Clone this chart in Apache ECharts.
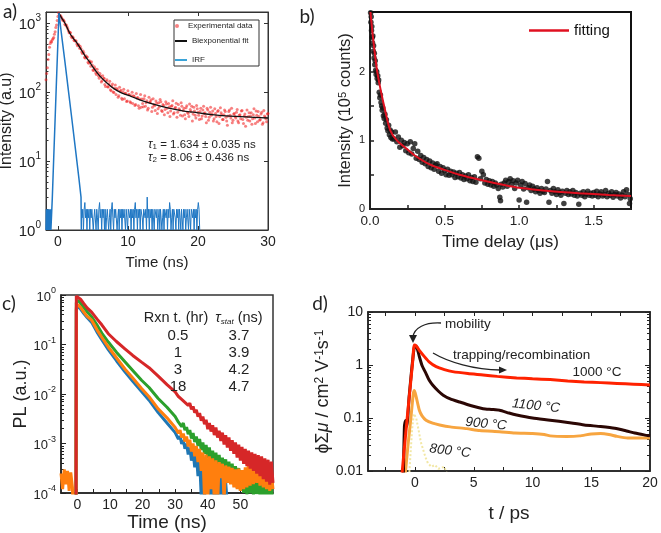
<!DOCTYPE html>
<html><head><meta charset="utf-8">
<script src="https://cdn.jsdelivr.net/npm/echarts@6/dist/echarts.min.js"></script>
<style>html,body{margin:0;padding:0;background:#fff}#c{width:661px;height:533px}</style>
</head><body><div id="c"></div>
<script>
// ---------------- Panel a ----------------
const aExpPre = [[-1.7,150],[-1.6,185],[-1.5,225],[-1.4,295],[-1.3,350],[-1.2,445],[-1.1,505],[-1.0,540],[-0.9,530],[-0.8,570],[-0.7,590],[-0.6,615],[-0.5,690],[-0.4,750],[-0.3,860],[-0.2,940],[-0.1,1090],[0.0,1240],[0.1,1400]];
const aExpStart = 0.2, aExpStep = 0.2;
const aExpVals = [1290,1270,1150,1105,960,935,835,725,725,610,612,552,550,470,478,455,380,392,318,335,322,262,271,275,208,232,188,214,170,186,140,172,159,120,150,118,143,104,131,98,126,112,84,117,106,78,110,96,73,104,92,70,99,88,64,95,83,58,92,79,61,88,70,55,84,72,52,80,63,74,49,70,78,54,66,47,72,58,68,44,62,75,50,60,43,66,55,70,45,58,41,63,49,67,52,38,60,46,64,51,40,58,45,62,50,36,55,43,60,48,38,57,44,52,35,59,47,40,55,43,33,52,46,58,39,49,42,56,36,47,53,40,45,32,55,44,38,50,41,57,35,46,52,39,48,34,54,43,37,49];
const aExp2Start = 0.3, aExp2Step = 0.2;
const aExpVals2 = [1255,1215,1100,1060,935,885,770,735,645,630,565,555,498,492,430,425,362,370,310,318,270,285,236,246,205,218,180,194,158,170,146,157,128,143,119,131,108,122,100,113,92,108,88,103,81,99,80,95,74,91,72,88,68,86,66,82,63,79,60,68,80,62,75,58,71,77,60,66,54,69,57,61,72,52,64,56,67,50,61,53,64,48,58,69,51,57,46,62,54,47,59,51,44,56,62,48,53,42,57,46,52,41,55,49,44,58,39,51,46,53,41,49,37,54,44,50,40,47,52,38,45,55,42,36,48,44,51,38,46,41,54,35,48,43,39,50,45,34,47,42,53,37,44,40,51,36,45,41,48];
const aFit = [[0.15,1400],[0.5,1200],[1,1000],[1.7,710],[2.2,600],[2.8,500],[3.4,400],[4,320],[4.5,275],[5,230],[6,170],[7,135],[8,112],[9,98],[10,90],[11,82],[12,75],[14,65],[16,58],[18,53],[20,50],[22,47],[24,45],[26,44],[28,43],[30,42]];
const aIrfPeak = [[-1.7,1],[-1.65,2],[-1.6,1],[-1.5,1],[-1.45,2],[-1.4,1],[-1.3,1],[-1.25,2],[-1.2,1],[-1.1,1],[-1.05,2],[-1.0,1],[-0.96,1],[-0.8,2.9],[-0.6,11],[-0.4,40],[-0.2,150],[0.0,530],[0.15,1400],[0.5,700],[1.0,275],[1.5,105],[2.0,40],[2.5,15],[3.0,5.6],[3.3,3],[3.35,1]];
const aIrfNoiseStart = 3.4, aIrfNoiseStep = 0.1;
const aIrfNoise = [2,1.5,2,1,2,2.5,1.5,2,1,2, 1.5,2,1,2,1.5,2,2,1,1.5,2, 2,1,2,1.5,1,2,2.5,1.5,2,1, 2,1.5,2,1,2,1,1.5,2,2,1, 1.5,2,1,2,2.5,1.5,1,2,1.5,2, 2,1,1.5,2,1,2,1.5,2,1,2, 1.5,2,2,1,2,1.5,1,2,2,1.5, 2,1,2,1.5,2,1,2,2.5,1.5,2, 1,2,1.5,2,1,2,2,1.5,1,2, 2,1.5,2,1,3,1.5,2,1,2,1.5, 2,1,2,1.5,1,2,2,1.5,2,1, 1.5,2,1,2,2,1,1.5,2,1,2, 2,1.5,2,1,2,1.5,2.5,2,1,1.5, 2,1,2,2,1.5,1,2,1.5,2,1, 2,1.5,1,2,2,1,2,1.5,2,1, 1.5,2,2,1,2,1.5,1,2,2,1.5, 2,1,2,1.5,2,1,2,2.5,2,1];
const aXTicks = [0,10,20,30];
const aYTicks = [1,10,100,1000];
const aYMinor = [2,3,4,5,6,7,8,9,20,30,40,50,60,70,80,90,200,300,400,500,600,700,800,900];

// ---------------- Panel b ----------------
const bData = [[0.004,2.86],[0.006,2.72],[0.008,2.8],[0.01,2.6],[0.012,2.66],[0.015,2.5],[0.017,2.42],[0.019,2.52],[0.022,2.3],[0.024,2.38],[0.027,2.2],[0.029,2.27],[0.032,2.1],[0.035,2.16],[0.038,2.02],[0.041,1.96],[0.045,2.0],[0.048,1.9],[0.052,1.94],[0.055,1.84],[0.058,1.88],[0.062,1.7],[0.066,1.62],[0.07,1.66],[0.074,1.55],[0.078,1.5],[0.082,1.44],[0.086,1.47],[0.09,1.36],[0.095,1.32],[0.1,1.38],[0.105,1.25],[0.11,1.3],[0.115,1.18],[0.12,1.14],[0.125,1.22],[0.13,1.08],[0.135,1.15],[0.14,1.04],[0.145,1.12],[0.15,1.02],
[0.16,1.02],[0.17,1.12],[0.18,0.98],[0.19,1.05],[0.20,0.9],[0.21,1.0],[0.22,0.92],[0.23,0.97],[0.24,0.85],[0.25,0.95],[0.26,0.82],[0.27,0.98],[0.28,0.8],[0.29,0.88],[0.30,0.95],[0.31,0.74],[0.32,0.84],[0.33,0.72],[0.34,0.78],[0.35,0.68],[0.36,0.75],[0.37,0.66],[0.38,0.72],[0.39,0.62],[0.40,0.7],[0.41,0.6],[0.42,0.67],[0.43,0.58],[0.44,0.64],[0.45,0.66],[0.46,0.55],[0.47,0.62],[0.48,0.52],[0.49,0.6],[0.50,0.56],[0.51,0.5],[0.52,0.58],[0.53,0.49],[0.54,0.55],[0.55,0.5],[0.56,0.54],[0.57,0.46],[0.58,0.52],[0.59,0.47],[0.60,0.53],[0.61,0.45],[0.62,0.5],[0.63,0.43],[0.64,0.48],[0.65,0.44],[0.66,0.5],[0.67,0.41],[0.68,0.46],[0.69,0.4],[0.70,0.47],[0.71,0.39],[0.72,0.76],[0.73,0.74],[0.74,0.44],[0.75,0.55],[0.76,0.5],[0.77,0.38],[0.78,0.43],[0.79,0.36],[0.80,0.41],[0.81,0.35],[0.82,0.4],[0.83,0.33],[0.84,0.38],[0.85,0.35],[0.86,0.3],[0.87,0.17],[0.875,0.12],[0.88,0.36],[0.89,0.32],[0.90,0.38],[0.91,0.42],[0.92,0.33],[0.93,0.4],[0.94,0.44],[0.95,0.36],[0.96,0.41],[0.97,0.3],[0.98,0.38],[0.99,0.42],[1.00,0.13],[1.01,0.35],[1.02,0.4],[1.03,0.29],[1.04,0.37],[1.05,0.1],[1.06,0.31],[1.07,0.35],[1.08,0.27],[1.09,0.33],[1.10,0.29],[1.11,0.25],[1.12,0.31],[1.13,0.27],[1.14,0.23],[1.15,0.3],[1.16,0.26],[1.17,0.24],[1.18,0.29],[1.19,0.4],[1.20,0.1],[1.21,0.27],[1.22,0.23],[1.23,0.3],[1.24,0.25],[1.25,0.21],[1.26,0.28],[1.27,0.24],[1.28,0.2],[1.29,0.26],[1.30,0.08],[1.31,0.23],[1.32,0.27],[1.33,0.21],[1.34,0.25],[1.35,0.22],[1.36,0.27],[1.37,0.2],[1.38,0.24],[1.39,0.19],[1.40,0.07],[1.41,0.23],[1.42,0.2],[1.43,0.25],[1.44,0.18],[1.45,0.22],[1.46,0.26],[1.47,0.2],[1.48,0.23],[1.49,0.19],[1.50,0.24],[1.51,0.2],[1.52,0.26],[1.53,0.18],[1.54,0.22],[1.55,0.25],[1.56,0.19],[1.57,0.21],[1.58,0.27],[1.59,0.18],[1.60,0.23],[1.61,0.2],[1.62,0.25],[1.63,0.17],[1.64,0.21],[1.65,0.24],[1.66,0.19],[1.67,0.22],[1.68,0.16],[1.69,0.2],[1.70,0.25],[1.71,0.18],[1.72,0.28],[1.73,0.21],[1.74,0.08],[1.745,0.15]];
const bFit = [[0.003,2.87],[0.02,2.5],[0.045,2.05],[0.07,1.75],[0.1,1.45],[0.135,1.15],[0.18,1.0],[0.25,0.87],[0.3,0.78],[0.4,0.65],[0.5,0.57],[0.6,0.5],[0.75,0.42],[0.9,0.35],[1.0,0.31],[1.2,0.262],[1.4,0.23],[1.6,0.205],[1.75,0.19]];
const bXLabels = [0,0.5,1,1.5];
const bXTicks = [0,0.25,0.5,0.75,1,1.25,1.5];
const bYLabels = [0,1,2];
const bYTicks = [0,0.5,1,1.5,2,2.5];

// ---------------- Panel c ----------------
const cTailStart = 30.5, cTailStep = 0.5;
const cRedHead = [[-0.4,5e-5],[-0.3,0.95],[0,1],[1,0.82],[2,0.67],[3,0.55],[4.4,0.45],[6,0.33],[7.5,0.25],[9.5,0.165],[12,0.115],[14.6,0.082],[17,0.06],[19.7,0.044],[22,0.034],[24.8,0.023],[27.5,0.0155],[30,0.011]];
const cRedTail = [1.1e-2,8.9e-3,9.5e-3,7.8e-3,8.3e-3,6.8e-3,7.2e-3,5.9e-3,6.5e-3,4.9e-3,5.6e-3,4.2e-3,4.8e-3,3.5e-3,4.1e-3,2.9e-3,3.5e-3,2.45e-3,3.0e-3,1.95e-3,2.6e-3,1.74e-3,2.35e-3,1.48e-3,2.1e-3,1.32e-3,1.82e-3,1.12e-3,1.66e-3,9.5e-4,1.48e-3,8.3e-4,1.32e-3,7.1e-4,1.17e-3,6.2e-4,1.05e-3,5.2e-4,9.5e-4,4.5e-4,8.5e-4,3.9e-4,7.8e-4,3.5e-4,7.2e-4,3.1e-4,6.6e-4,2.8e-4,6.2e-4,2.45e-4,5.8e-4,2.2e-4,5.5e-4,1.9e-4,5.0e-4,1.7e-4,4.7e-4,1.48e-4,4.3e-4,1.6e-4];
const cGreenHead = [[-0.4,5e-5],[-0.3,0.7],[0.2,0.78],[1,0.68],[2,0.56],[3,0.46],[4.4,0.363],[6,0.25],[7.5,0.17],[9.5,0.112],[12,0.07],[14.6,0.045],[17,0.03],[19.7,0.019],[22,0.0135],[24.8,0.0081],[27.5,0.0054],[30,0.0035]];
const cGreenTail = [3.5e-3,2.7e-3,2.95e-3,2.2e-3,2.6e-3,1.86e-3,2.14e-3,1.55e-3,1.86e-3,1.26e-3,1.62e-3,1.07e-3,1.38e-3,8.9e-4,1.23e-3,7.4e-4,1.05e-3,6.2e-4,9.3e-4,5.1e-4,8.3e-4,4.4e-4,7.2e-4,3.8e-4,6.5e-4,3.2e-4,5.9e-4,2.75e-4,5.2e-4,2.3e-4,4.8e-4,2.0e-4,4.3e-4,1.74e-4,3.9e-4,1.51e-4,3.5e-4,1.29e-4,3.2e-4,1.1e-4,2.9e-4,1e-4,2.7e-4,9.3e-5,2.6e-4,9.8e-5,2.35e-4,9.1e-5,2.2e-4,9.5e-5,2.05e-4,8.7e-5,1.82e-4,8e-5,1.66e-4,7e-5,1.45e-4,6e-5,1.3e-4,6e-5];
const cOrangeHead = [[-5,2.5e-4],[-4.5,1.2e-4],[-4,3e-4],[-3.5,1.5e-4],[-3,2.8e-4],[-2.5,1.1e-4],[-2,2.6e-4],[-1.5,1.3e-4],[-1.3,5e-5],[-0.4,5e-5],[-0.3,0.55],[0.2,0.64],[1,0.56],[2,0.45],[3,0.37],[4.4,0.31],[6,0.2],[7.5,0.14],[9.5,0.089],[12,0.054],[14.6,0.032],[17,0.021],[19.7,0.0129],[22,0.0088],[24.8,0.005],[27.5,0.0033],[30,0.0021]];
const cOrangeTail = [2.2e-3,1.62e-3,1.86e-3,1.32e-3,1.58e-3,1.1e-3,1.38e-3,8.7e-4,1.2e-3,6.9e-4,1e-3,5.5e-4,8.9e-4,4.2e-4,7.8e-4,2.8e-4,6.6e-4,8e-5,6e-4,7e-5,5.5e-4,1.2e-4,5e-4,7e-5,4.6e-4,6e-5,4.2e-4,2e-4,3.9e-4,7e-5,3.6e-4,1.6e-4,3.4e-4,1.5e-4,3.2e-4,1.3e-4,3e-4,1.2e-4,3.1e-4,1.1e-4,2.9e-4,1.2e-4,3.3e-4,1.3e-4,4.2e-4,1.4e-4,5.2e-4,1.5e-4,5.4e-4,1.6e-4,4.8e-4,1.4e-4,5.3e-4,1.3e-4,3.6e-4,1.2e-4,2.8e-4,1.1e-4,2.5e-4,1.2e-4];
const cBlueHead = [[-0.4,5e-5],[-0.3,0.5],[0.2,0.6],[1,0.52],[2,0.42],[3,0.35],[4.4,0.28],[6,0.18],[7.5,0.125],[9.5,0.079],[12,0.047],[14.6,0.028],[17,0.018],[19.7,0.0112],[22,0.0075],[24.8,0.0042],[27.5,0.0026],[30,0.00166]];
const cBlueTail = [1.7e-3,1.23e-3,1.41e-3,9.8e-4,1.17e-3,7.8e-4,1e-3,6e-4,8.3e-4,4.5e-4,6.9e-4,3.3e-4,6e-4,2.2e-4,5e-4,8e-5,4.4e-4,7e-5,3.8e-4,1.5e-4,3.3e-4,6e-5,3e-4,7e-5,2.6e-4,6e-5,2.4e-4,7e-5,2e-4,6e-5,1.6e-4,6e-5];
const cTableHead = ['Rxn t. (hr)', '{i|τ}{s|stat} (ns)'];
const cRxnTimes = ['0.5','1','3','18'];
const cTauStat = ['3.7','3.9','4.2','4.7'];
const cXLabels = [0,10,20,30,40,50];
const cXTicks = [0,5,10,15,20,25,30,35,40,45,50,55];
const cYTicks = [1e-4,1e-3,1e-2,1e-1,1];
const cYMinor = [2e-4,3e-4,4e-4,5e-4,6e-4,7e-4,8e-4,9e-4,2e-3,3e-3,4e-3,5e-3,6e-3,7e-3,8e-3,9e-3,2e-2,3e-2,4e-2,5e-2,6e-2,7e-2,8e-2,9e-2,0.2,0.3,0.4,0.5,0.6,0.7,0.8,0.9];

// ---------------- Panel d ----------------
const d1000 = [[-1.2,0.005],[-1.05,0.012],[-0.8,0.048],[-0.6,0.14],[-0.4,0.4],[-0.2,1.15],[-0.06,2.38],[0.1,2.3],[0.4,1.85],[0.8,1.44],[1.2,1.15],[1.8,0.93],[2.5,0.82],[3.2,0.75],[4.5,0.69],[5.8,0.65],[7,0.61],[8.65,0.57],[10,0.55],[11.5,0.53],[13,0.5],[14.4,0.48],[15.8,0.465],[17.2,0.45],[18.6,0.435],[20,0.42]];
const d1100 = [[-1.0,0.006],[-0.9,0.07],[-0.8,0.09],[-0.7,0.07],[-0.5,0.25],[-0.3,0.75],[-0.1,1.9],[0.0,2.3],[0.15,2.2],[0.37,1.44],[0.6,0.98],[0.94,0.69],[1.2,0.52],[1.5,0.42],[2.0,0.32],[2.4,0.27],[3.0,0.23],[3.8,0.2],[4.8,0.17],[5.8,0.15],[6.5,0.145],[7.2,0.14],[8.0,0.124],[8.65,0.114],[10,0.1],[11.5,0.091],[13,0.082],[14.4,0.074],[15.8,0.069],[17,0.064],[18,0.057],[18.7,0.052],[19.5,0.048],[20,0.046]];
const d900 = [[-0.9,0.006],[-0.6,0.03],[-0.35,0.1],[-0.15,0.28],[-0.05,0.33],[0.1,0.25],[0.37,0.14],[0.6,0.11],[0.94,0.091],[1.5,0.08],[2.1,0.074],[3,0.068],[4.4,0.063],[5.5,0.058],[7.2,0.055],[8.5,0.052],[10,0.051],[11,0.049],[11.5,0.046],[12.9,0.045],[14,0.046],[15,0.05],[15.8,0.051],[16.5,0.049],[17.2,0.045],[18.1,0.042],[19,0.042],[20,0.042]];
const d800 = [[-0.5,0.008],[-0.25,0.06],[-0.1,0.12],[0.1,0.1],[0.3,0.06],[0.5,0.035],[0.7,0.025],[0.9,0.018],[1.1,0.014],[1.4,0.012],[1.7,0.013],[2.0,0.011],[2.5,0.012],[2.7,0.009]];
const dXLabels = [0,5,10,15,20];
const dXTicks = [-2.5,0,2.5,5,7.5,10,12.5,15,17.5];
const dYTicks = [0.01,0.1,1,10];
const dYMinor = [0.02,0.03,0.04,0.05,0.06,0.07,0.08,0.09,0.2,0.3,0.4,0.5,0.6,0.7,0.8,0.9,2,3,4,5,6,7,8,9];

// ---------------- build ----------------
const F = '"Liberation Sans", Arial, sans-serif';
const pairs = (start, step, vals) => vals.map((v, i) => [+(start + i * step).toFixed(3), v]);
const aExp = aExpPre.concat(pairs(aExpStart, aExpStep, aExpVals), pairs(aExp2Start, aExp2Step, aExpVals2));
const aIrfN = pairs(aIrfNoiseStart, aIrfNoiseStep, aIrfNoise);
const supRich = (fs) => ({
  b: {fontSize: fs, fontFamily: F, color: '#222', lineHeight: fs + 4, verticalAlign: 'bottom'},
  s: {fontSize: Math.round(fs * 0.68), fontFamily: F, color: '#222', verticalAlign: 'top', lineHeight: fs * 0.7}
});
const pow10 = v => '{b|10}{s|' + Math.round(Math.log10(v)) + '}';

function ax(o) {
  const c = o.c || '#222';
  return {
    type: o.type || 'value', logBase: 10, gridIndex: o.g, min: o.min, max: o.max,
    position: o.pos, offset: 0,
    axisLine: {show: o.line !== false, onZero: false, lineStyle: {color: c, width: o.w || 1}},
    axisTick: {show: !!o.ticks, inside: true, length: o.tl || 4, customValues: o.ticks, lineStyle: {color: c, width: o.tw || 1}},
    minorTick: {show: false},
    axisLabel: o.labels ? {show: true, customValues: o.labels, formatter: o.fmt, fontSize: o.fs || 13, color: '#222', fontFamily: F, margin: o.margin || 5, rich: o.rich} : {show: false},
    splitLine: {show: false},
    name: o.name || '', nameLocation: 'middle', nameGap: o.gap || 25,
    nameTextStyle: {fontSize: o.nfs || 15, color: '#222', fontFamily: F, rich: o.nrich}
  };
}

const legText = {fontSize: 8, fontFamily: F, color: '#222'};
const gridBase = {show: true, containLabel: false, outerBoundsMode: 'none'};
const option = {
  animation: false,
  backgroundColor: '#fff',
  grid: [
    Object.assign({left: 46, top: 12, width: 222, height: 218, borderColor: '#333', borderWidth: 1}, gridBase),
    Object.assign({left: 370, top: 12, width: 261, height: 197, borderColor: '#111', borderWidth: 2}, gridBase),
    Object.assign({left: 61, top: 295, width: 212, height: 198, borderColor: '#333', borderWidth: 1.5}, gridBase),
    Object.assign({left: 368, top: 312, width: 282, height: 159, borderColor: '#222', borderWidth: 1.5}, gridBase)
  ],
  xAxis: [
    ax({g: 0, min: -1.7, max: 30, pos: 'bottom', labels: aXTicks, ticks: aXTicks, fs: 14, name: 'Time (ns)', gap: 25, nfs: 15, c: '#333'}),
    ax({g: 0, min: -1.7, max: 30, pos: 'top', ticks: aXTicks, c: '#333'}),
    ax({g: 1, min: 0, max: 1.75, pos: 'bottom', labels: bXLabels, ticks: bXTicks, fmt: v => v.toFixed(1), fs: 13.5, name: 'Time delay (μs)', gap: 25, nfs: 17, w: 2, tw: 1.5}),
    ax({g: 2, min: -5, max: 60, pos: 'bottom', labels: cXLabels, ticks: cXTicks, fs: 14, name: 'Time (ns)', gap: 18, nfs: 19, w: 1.5}),
    ax({g: 3, min: -4, max: 20, pos: 'bottom', labels: dXLabels, ticks: dXTicks, fs: 14, name: 't / ps', gap: 33, nfs: 19, w: 1.5}),
    ax({g: 3, min: -4, max: 20, pos: 'top', ticks: dXTicks, w: 1.5})
  ],
  yAxis: [
    ax({type: 'log', g: 0, min: 1, max: 1445, pos: 'left', labels: aYTicks, ticks: aYTicks, fmt: pow10, rich: supRich(15), name: 'Intensity (a.u)', gap: 24, nfs: 16, c: '#333'}),
    ax({type: 'log', g: 0, min: 1, max: 1445, pos: 'left', ticks: aYMinor, tl: 2.5, line: false, c: '#333'}),
    ax({type: 'log', g: 0, min: 1, max: 1445, pos: 'right', ticks: aYTicks, c: '#333'}),
    ax({g: 1, min: 0, max: 2.87, pos: 'left', labels: bYLabels, ticks: bYTicks, fs: 11, name: 'Intensity (10{s|5} counts)', nrich: {s: {fontSize: 11, fontFamily: F, color: '#222', verticalAlign: 'top'}}, gap: 16, nfs: 16.5, w: 2, tw: 1.5}),
    ax({type: 'log', g: 2, min: 1e-4, max: 1, pos: 'left', labels: cYTicks, ticks: cYTicks, fmt: pow10, rich: supRich(13), name: 'PL (a.u.)', gap: 31, nfs: 18, w: 1.5, tl: 5}),
    ax({type: 'log', g: 2, min: 1e-4, max: 1, pos: 'left', ticks: cYMinor, tl: 3, line: false}),
    ax({type: 'log', g: 3, min: 0.01, max: 10, pos: 'left', labels: dYTicks, ticks: dYTicks, fmt: v => String(v), fs: 14, name: 'ϕΣ{i|μ} / cm{s|2} V{s|-1}s{s|-1}', nrich: {i: {fontSize: 18, fontStyle: 'italic', fontFamily: F, color: '#222'}, s: {fontSize: 12, fontFamily: F, color: '#222', verticalAlign: 'top'}}, gap: 36, nfs: 18, w: 1.5, tl: 5}),
    ax({type: 'log', g: 3, min: 0.01, max: 10, pos: 'left', ticks: dYMinor, tl: 3, line: false}),
    ax({type: 'log', g: 3, min: 0.01, max: 10, pos: 'right', ticks: dYTicks, tl: 5, w: 1.5}),
    ax({type: 'log', g: 3, min: 0.01, max: 10, pos: 'right', ticks: dYMinor, tl: 3, line: false})
  ],
  legend: [
    {data: [{name: 'Experimental data', icon: 'circle'}], left: 175, top: 22, selectedMode: false, padding: 0,
     itemWidth: 12, itemHeight: 4, textStyle: legText},
    {data: [{name: 'Biexponential fit', icon: 'rect'}, {name: 'IRF', icon: 'rect'}], orient: 'vertical', left: 175, top: 37, selectedMode: false, padding: 0,
     itemWidth: 12, itemHeight: 2, itemGap: 11, textStyle: legText},
    {data: [{name: 'fitting', icon: 'rect'}], left: 529, top: 23, selectedMode: false, padding: 0, itemWidth: 40, itemHeight: 2.5, itemGap: 4,
     textStyle: {fontSize: 15, fontFamily: F, color: '#111'}}
  ],
  series: [
    {name: 'Experimental data', type: 'scatter', xAxisIndex: 0, yAxisIndex: 0, data: aExp, symbolSize: 3, itemStyle: {color: 'rgba(240,30,30,0.7)'}},
    {name: 'Biexponential fit', type: 'line', xAxisIndex: 0, yAxisIndex: 0, data: aFit, smooth: 0.3, symbol: 'none', lineStyle: {color: '#111', width: 1.3}, itemStyle: {color: '#111'}},
    {name: 'IRF', type: 'line', xAxisIndex: 0, yAxisIndex: 0, data: aIrfPeak, symbol: 'none', lineStyle: {color: '#1f77c4', width: 1.5}, itemStyle: {color: '#3aa3d8'}},
    {name: 'IRF', type: 'line', xAxisIndex: 0, yAxisIndex: 0, data: aIrfN, step: 'middle', symbol: 'none', lineStyle: {color: '#1f77c4', width: 1}, itemStyle: {color: '#3aa3d8'}},

    {name: 'b data', type: 'scatter', xAxisIndex: 2, yAxisIndex: 3, data: bData, symbolSize: 5.5, itemStyle: {color: '#111'}},
    {name: 'fitting', type: 'line', xAxisIndex: 2, yAxisIndex: 3, data: bFit, smooth: 0.3, symbol: 'none', lineStyle: {color: '#e01020', width: 2}, itemStyle: {color: '#e01020'}},

    {name: 'c 0.5 hr', type: 'line', xAxisIndex: 3, yAxisIndex: 4, data: cBlueHead.concat(pairs(cTailStart, cTailStep, cBlueTail)), symbol: 'none', lineStyle: {color: '#1f77b4', width: 3}},
    {name: 'c 1 hr', type: 'line', xAxisIndex: 3, yAxisIndex: 4, data: cGreenHead.concat(pairs(cTailStart, cTailStep, cGreenTail)), symbol: 'none', lineStyle: {color: '#2ca02c', width: 3}},
    {name: 'c 3 hr', type: 'line', xAxisIndex: 3, yAxisIndex: 4, data: cOrangeHead.concat(pairs(cTailStart, cTailStep, cOrangeTail)), symbol: 'none', lineStyle: {color: '#ff7f0e', width: 3}},
    {name: 'c 18 hr', type: 'line', xAxisIndex: 3, yAxisIndex: 4, data: cRedHead.concat(pairs(cTailStart, cTailStep, cRedTail)), symbol: 'none', lineStyle: {color: '#d62728', width: 3}},

    {name: 'd 800', type: 'line', xAxisIndex: 4, yAxisIndex: 6, data: d800, symbol: 'none', lineStyle: {color: '#f2e7a4', width: 2, type: 'dotted'}},
    {name: 'd 900', type: 'line', xAxisIndex: 4, yAxisIndex: 6, data: d900, symbol: 'none', smooth: 0.2, lineStyle: {color: '#f7a540', width: 3}},
    {name: 'd 1100', type: 'line', xAxisIndex: 4, yAxisIndex: 6, data: d1100, symbol: 'none', smooth: 0.2, lineStyle: {color: '#2b0704', width: 3}},
    {name: 'd 1000', type: 'line', xAxisIndex: 4, yAxisIndex: 6, data: d1000, symbol: 'none', smooth: 0.2, lineStyle: {color: '#ff2200', width: 3}}
  ],
  graphic: []
};

const G = option.graphic;
const txt = (x, y, text, fs, extra) => G.push(Object.assign({type: 'text', x: x, y: y, z: 100,
  style: Object.assign({text: text, fontSize: fs, fontFamily: F, fill: '#222', align: 'center', verticalAlign: 'middle'}, extra || {})}));
// legend box for panel a
G.push({type: 'rect', z: -1, shape: {x: 174, y: 20, width: 85, height: 46}, style: {fill: '#fff', stroke: '#333', lineWidth: 1}});
// panel letters
txt(10, 12, 'a)', 19, {fontFamily: 'Lato, "Open Sans", sans-serif'});
txt(307, 17, 'b)', 19, {fontFamily: 'Lato, "Open Sans", sans-serif'});
txt(9, 304, 'c)', 19, {fontFamily: 'Lato, "Open Sans", sans-serif'});
txt(320, 304, 'd)', 19, {fontFamily: 'Lato, "Open Sans", sans-serif'});
// panel a lifetimes
const tauRich = {i: {fontStyle: 'italic', fontSize: 12, fontFamily: F, fill: '#222'}, s: {fontSize: 8, fontFamily: F, verticalAlign: 'bottom', fill: '#222'}, n: {fontSize: 11.5, fontFamily: F, fill: '#222'}};
txt(148, 145, '{i|τ}{s|1}{n| = 1.634 ± 0.035 ns}', 11.5, {align: 'left', rich: tauRich});
txt(148, 158, '{i|τ}{s|2}{n| = 8.06 ± 0.436 ns}', 11.5, {align: 'left', rich: tauRich});
// panel c table
txt(176, 318, cTableHead[0], 14.5);
txt(239, 318, cTableHead[1], 14.5, {rich: {i: {fontStyle: 'italic', fontSize: 14.5, fontFamily: F, fill: '#222'}, s: {fontSize: 8, fontStyle: 'italic', fontFamily: F, verticalAlign: 'bottom', fill: '#222'}}});
cRxnTimes.forEach((t, i) => txt(178, 336 + i * 17, t, 15));
cTauStat.forEach((t, i) => txt(239, 336 + i * 17, t, 15));
// panel d annotations
txt(445, 324, 'mobility', 13.5, {align: 'left'});
txt(453, 355, 'trapping/recombination', 13.5, {align: 'left'});
txt(597, 372, '1000 °C', 13.5);
G.push({type: 'text', x: 536, y: 406, rotation: -0.1, z: 100, style: {text: '1100 °C', fontSize: 13.5, fontStyle: 'italic', fontFamily: F, fill: '#222', align: 'center', verticalAlign: 'middle'}});
G.push({type: 'text', x: 486, y: 424, rotation: -0.1, z: 100, style: {text: '900 °C', fontSize: 13.5, fontStyle: 'italic', fontFamily: F, fill: '#222', align: 'center', verticalAlign: 'middle'}});
G.push({type: 'text', x: 450, y: 451, rotation: -0.12, z: 100, style: {text: '800 °C', fontSize: 13.5, fontStyle: 'italic', fontFamily: F, fill: '#222', align: 'center', verticalAlign: 'middle'}});
// arrows
G.push({type: 'bezierCurve', z: 100, shape: {x1: 441, y1: 323, cpx1: 425, cpy1: 322, cpx2: 414, cpy2: 328, x2: 413, y2: 337}, style: {stroke: '#222', lineWidth: 1.3, fill: null}});
G.push({type: 'polygon', z: 100, shape: {points: [[409, 335], [417, 335], [413, 343]]}, style: {fill: '#222'}});
G.push({type: 'bezierCurve', z: 100, shape: {x1: 433, y1: 353, cpx1: 448, cpy1: 362, cpx2: 475, cpy2: 370, x2: 500, y2: 370}, style: {stroke: '#222', lineWidth: 1.3, fill: null}});
G.push({type: 'polygon', z: 100, shape: {points: [[499, 366.5], [499, 373.5], [507, 370]]}, style: {fill: '#222'}});

const chart = echarts.init(document.getElementById('c'), null, {renderer: 'canvas'});
chart.setOption(option);
</script></body></html>
